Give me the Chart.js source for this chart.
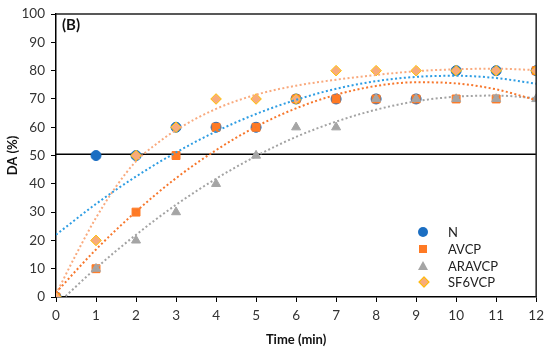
<!DOCTYPE html>
<html>
<head>
<meta charset="utf-8">
<script src="https://cdn.jsdelivr.net/npm/chart.js@4/dist/chart.umd.min.js"></script>
<style>
  body { margin: 0; background: #fff; }
  #wrap { position: relative; width: 550px; height: 350px; font-family: Lato, sans-serif; }
  canvas { position: absolute; left: 0; top: 0; }
  .panel { position: absolute; left: 62px; top: 15px; font: bold 15px Lato, sans-serif; color: #111; }
  .lg { position: absolute; left: 448px; font: 13px Lato, sans-serif; color: #222; line-height: 16px; }
  .mk { position: absolute; }
</style>
</head>
<body>
<div id="wrap">
  <canvas id="chart" width="550" height="350"></canvas>
  <div class="panel">(B)</div>
  <div id="legend"></div>
</div>
<script>
// values
const times = [0, 1, 2, 3, 4, 5, 6, 7, 8, 9, 10, 11, 12];
const nValues      = [0, 50, 50, 60, 60, 60, 70, 70, 70, 70, 80, 80, 80];
const avcpValues   = [0, 10, 30, 50, 60, 60, 70, 70, 70, 70, 70, 70, 80];
const aravcpValues = [0, 10, 20, 30, 40, 50, 60, 60, 70, 70, 70, 70, 70];
const sf6Values    = [0, 20, 50, 60, 70, 70, 70, 80, 80, 80, 80, 80, 80];

// dotted trend lines, read at each minute
const nTrend      = [22.0, 32.9, 42.6, 51.1, 58.5, 64.7, 69.7, 73.6, 76.3, 77.8, 78.2, 77.4, 75.4];
const avcpTrend   = [1.6, 16.8, 30.2, 42.0, 51.9, 60.2, 66.7, 71.5, 74.6, 75.9, 75.5, 73.4, 69.6];
const aravcpTrend = [-2.9, 10.2, 22.0, 32.6, 41.8, 49.8, 56.6, 62.0, 66.2, 69.2, 70.8, 71.2, 70.3];
const sf6TrendTimes = [0, 0.5, 1, 1.5, 2, 2.5, 3, 4, 5, 6, 7, 8, 9, 10, 11, 12];
const sf6Trend      = [1, 15, 28, 39, 48, 54, 59, 66.5, 71.5, 74.7, 76.8, 78.5, 79.8, 80.5, 80.7, 80.2];

const thresholdValue = 50.5;
const xTicks = [0, 1, 2, 3, 4, 5, 6, 7, 8, 9, 10, 11, 12];
const yTicks = [0, 10, 20, 30, 40, 50, 60, 70, 80, 90, 100];

const seriesNames = ["N", "AVCP", "ARAVCP", "SF6VCP"];

const pts = (xs, ys) => xs.map((x, i) => ({ x: x, y: ys[i] }));

function trend(xs, ys, color, order) {
  return {
    label: "trend", data: pts(xs, ys), showLine: true,
    borderColor: color, borderWidth: 2, borderDash: [2, 2.4],
    pointRadius: 0, tension: 0.4, cubicInterpolationMode: "monotone",
    order: order
  };
}

function marks(label, ys, style, radius, fill, border, order) {
  return {
    label: label, data: pts(times, ys), showLine: false,
    pointStyle: style, pointRadius: radius, pointBackgroundColor: fill,
    pointBorderColor: border, pointBorderWidth: 1, order: order
  };
}

const boxPlugin = {
  id: "box",
  afterDraw(chart) {
    const a = chart.chartArea, ctx = chart.ctx;
    ctx.save();
    ctx.strokeStyle = "#222";
    ctx.lineWidth = 1.5;
    ctx.beginPath();
    ctx.moveTo(a.left, a.top);
    ctx.lineTo(a.right, a.top);
    ctx.lineTo(a.right, a.bottom);
    ctx.stroke();
    ctx.restore();
  }
};

Chart.defaults.font.family = "Lato, sans-serif";

new Chart(document.getElementById("chart").getContext("2d"), {
  type: "scatter",
  data: {
    datasets: [
      { label: "limit", data: [{ x: 0, y: thresholdValue }, { x: 12, y: thresholdValue }],
        showLine: true, borderColor: "#000", borderWidth: 1.5, pointRadius: 0, order: 20 },
      marks(seriesNames[0], nValues, "circle", 5, "#1B6EC2", "#1B6EC2", 9),
      marks(seriesNames[1], avcpValues, "rect", 5.6, "#FF7A24", "#FF7A24", 8),
      marks(seriesNames[2], aravcpValues, "triangle", 5.2, "#A5A5A5", "#A5A5A5", 7),
      marks(seriesNames[3], sf6Values, "rectRot", 5.3, "#F8AB7C", "#FFC000", 6),
      trend(times, nTrend, "#2E9DE3", 2),
      trend(times, avcpTrend, "#F7772C", 2),
      trend(times, aravcpTrend, "#A3A3A3", 2),
      trend(sf6TrendTimes, sf6Trend, "#F9AA7E", 2)
    ]
  },
  options: {
    responsive: false,
    animation: false,
    layout: { padding: { left: 0, top: 10, right: 12, bottom: 0 } },
    plugins: { legend: { display: false }, tooltip: { enabled: false } },
    scales: {
      x: {
        type: "linear", min: 0, max: 12,
        afterBuildTicks: s => { s.ticks = xTicks.map(v => ({ value: v })); },
        afterFit: s => { s.height = 53; },
        grid: { drawOnChartArea: false, drawTicks: true, tickLength: 5, color: "#000" },
        border: { color: "#000", width: 1.5 },
        ticks: { color: "#333", font: { size: 13.5 }, padding: 6 },
        title: { display: true, text: "Time (min)", color: "#111",
                 font: { size: 13, weight: "bold" }, padding: { top: 0, bottom: 2 } }
      },
      y: {
        type: "linear", min: 0, max: 100,
        afterBuildTicks: s => { s.ticks = yTicks.map(v => ({ value: v })); },
        afterFit: s => { s.width = 56; },
        grid: { drawOnChartArea: false, drawTicks: true, tickLength: 5, color: "#000" },
        border: { color: "#000", width: 1.5 },
        ticks: { color: "#333", font: { size: 13.5 }, padding: 6 },
        title: { display: true, text: "DA (%)", color: "#111",
                 font: { size: 13, weight: "bold" }, padding: { top: 5, bottom: 0 } }
      }
    }
  },
  plugins: [boxPlugin]
});

// legend inside the plot, bottom right
const legendRows = [
  { top: 232, css: "left:418px;width:10px;height:10px;border-radius:50%;background:#1B6EC2;" },
  { top: 248.5, css: "left:419px;width:8px;height:8px;background:#FF7A24;" },
  { top: 265.5, css: "left:418px;width:10px;height:9px;background:#A5A5A5;clip-path:polygon(50% 0,100% 100%,0 100%);" },
  { top: 282, css: "left:419.5px;width:6px;height:6px;background:#F8AB7C;border:1px solid #FFC000;transform:rotate(45deg);" }
];
const lg = document.getElementById("legend");
legendRows.forEach((r, i) => {
  const m = document.createElement("div");
  m.className = "mk";
  m.style.cssText = r.css;
  lg.appendChild(m);
  const h = m.offsetHeight;
  m.style.top = (r.top - h / 2) + "px";
  const t = document.createElement("div");
  t.className = "lg";
  t.style.top = (r.top - 8) + "px";
  t.textContent = seriesNames[i];
  lg.appendChild(t);
});
</script>
</body>
</html>
